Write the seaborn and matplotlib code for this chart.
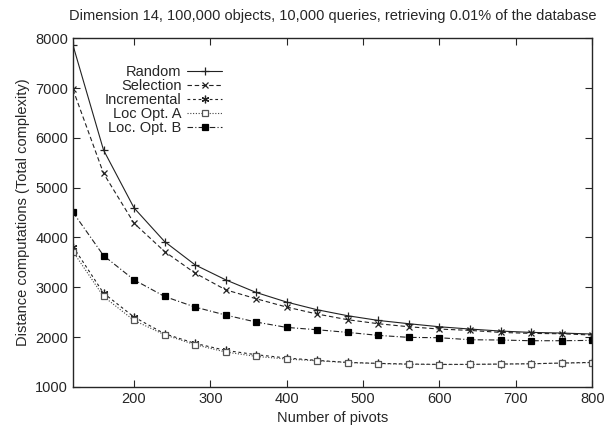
import numpy as np
import pandas as pd
import matplotlib
matplotlib.use('Agg')
import matplotlib.pyplot as plt
import seaborn as sns

# number of pivots
pivots = [120, 160, 200, 240, 280, 320, 360, 400, 440, 480, 520, 560, 600, 640, 680, 720, 760, 800]

random_vals = [7860, 5756, 4593, 3918, 3450, 3150, 2896, 2703, 2549, 2429, 2335, 2269, 2208, 2162, 2122, 2095, 2082, 2062]
selection_vals = [6972, 5288, 4286, 3718, 3284, 2950, 2770, 2603, 2463, 2349, 2269, 2208, 2162, 2135, 2095, 2075, 2068, 2042]
incremental_vals = [3818, 2884, 2403, 2068, 1874, 1734, 1647, 1581, 1533, 1493, 1473, 1460, 1453, 1453, 1460, 1466, 1480, 1493]
locopt_a_vals = [3718, 2816, 2335, 2048, 1848, 1701, 1613, 1560, 1525, 1490, 1470, 1455, 1450, 1452, 1458, 1465, 1478, 1490]
locopt_b_vals = [4507, 3637, 3150, 2816, 2603, 2443, 2302, 2195, 2148, 2095, 2035, 1995, 1988, 1948, 1942, 1928, 1928, 1935]

labels = ['Random', 'Selection', 'Incremental', 'Loc Opt. A', 'Loc. Opt. B']
series = [random_vals, selection_vals, incremental_vals, locopt_a_vals, locopt_b_vals]

sns.set_style('ticks')
plt.rcParams['font.family'] = ['Liberation Sans', 'DejaVu Sans']

fig, ax = plt.subplots(figsize=(6.08, 4.29), dpi=100)
fig.subplots_adjust(left=0.120, right=0.974, bottom=0.098, top=0.911)

STYLES = {
    'Random': dict(linestyle='-', marker='+', markersize=6, mfc='none', mec='#222222', color='#222222'),
    'Selection': dict(linestyle=(0, (4, 2.5)), marker='x', markersize=4.8, mfc='none', mec='#222222', color='#222222'),
    'Incremental': dict(linestyle=(0, (2.5, 2.5)), marker=(6, 2, 0), markersize=5.5, mfc='none', mec='#222222', color='#222222'),
    'Loc Opt. A': dict(linestyle=(0, (1, 1.5)), marker='s', markersize=4, mfc='white', mec='#555555', color='#444444'),
    'Loc. Opt. B': dict(linestyle=(0, (5, 2, 1, 2)), marker='s', markersize=4.6, mfc='black', mec='black', color='#222222'),
}

for lab, vals in zip(labels, series):
    df = pd.DataFrame({'pivots': pivots, 'dist': vals})
    st = STYLES[lab]
    sns.lineplot(data=df, x='pivots', y='dist', ax=ax, label=lab,
                 linewidth=0.8, markeredgewidth=0.9, **st)

ax.set_xlim(120, 800)
ax.set_ylim(1000, 8000)
ax.set_xticks(range(200, 801, 100))
ax.set_yticks(range(1000, 8001, 1000))
ax.tick_params(direction='in', top=True, right=True, length=5, width=0.8, labelsize=10.5)
for s in ax.spines.values():
    s.set_linewidth(1.0)

ax.set_xlabel('Number of pivots', fontsize=10.5)
ax.set_ylabel('Distance computations (Total complexity)', fontsize=10.5)
ax.set_title('Dimension 14, 100,000 objects, 10,000 queries, retrieving 0.01% of the database',
             fontsize=10.5, pad=13)

leg = ax.legend(loc='upper right', bbox_to_anchor=(0.302, 0.945), frameon=False,
                markerfirst=False, fontsize=10.5, handlelength=2.4, borderpad=0,
                labelspacing=0.0, handletextpad=0.4)

fig.savefig('out.png', dpi=100)
